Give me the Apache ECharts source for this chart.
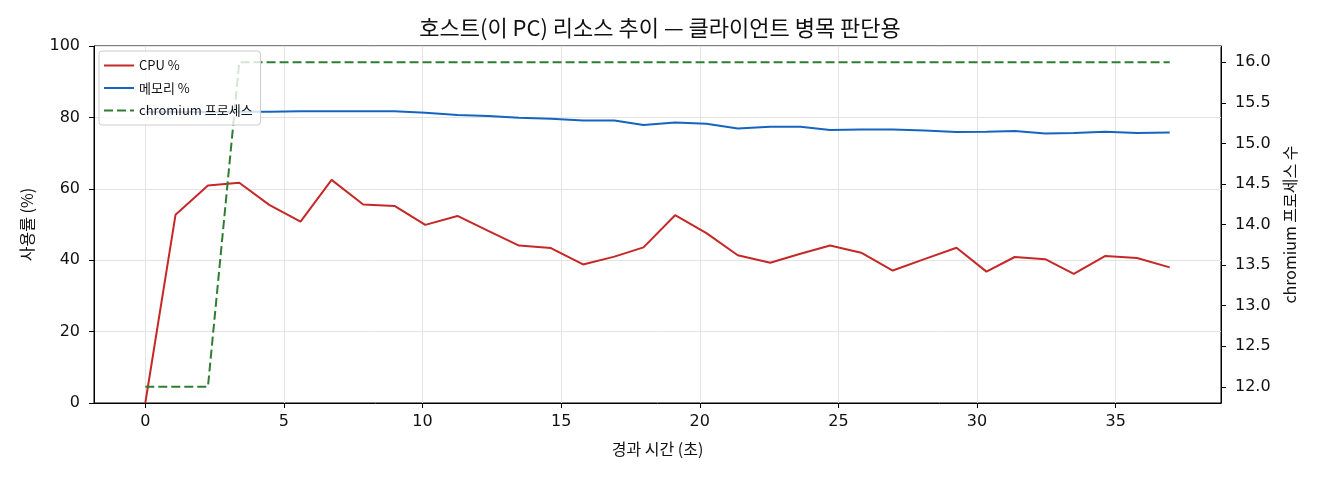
<!DOCTYPE html>
<html>
<head>
<meta charset="utf-8">
<script src="https://cdn.jsdelivr.net/npm/echarts@6/dist/echarts.min.js"></script>
<style>
html,body{margin:0;padding:0;background:#fff;}
#chart{width:1320px;height:480px;}
</style>
</head>
<body>
<div id="chart"></div>
<script>
var elapsed = [0, 1.09, 2.26, 3.39, 4.47, 5.6, 6.72, 7.86, 8.99, 10.1, 11.26, 12.37, 13.48, 14.63, 15.79, 16.92, 17.97, 19.11, 20.24, 21.37, 22.54, 23.63, 24.7, 25.82, 26.96, 28.1, 29.26, 30.34, 31.36, 32.46, 33.49, 34.63, 35.77, 36.95];
var cpuPct = [0, 52.7, 60.9, 61.7, 55.5, 50.8, 62.5, 55.6, 55.2, 49.9, 52.4, 48.2, 44.1, 43.4, 38.8, 41.0, 43.6, 52.6, 47.6, 41.4, 39.3, 41.8, 44.1, 42.1, 37.1, 40.3, 43.5, 36.8, 40.9, 40.3, 36.2, 41.2, 40.6, 38.0];
var memPct = [81.5, 81.5, 81.5, 81.6, 81.6, 81.7, 81.7, 81.7, 81.7, 81.3, 80.7, 80.4, 79.9, 79.6, 79.1, 79.1, 77.9, 78.6, 78.2, 76.9, 77.4, 77.4, 76.45, 76.6, 76.6, 76.3, 75.9, 75.95, 76.2, 75.5, 75.6, 75.95, 75.6, 75.75];
var chromiumProcs = [12, 12, 12, 16, 16, 16, 16, 16, 16, 16, 16, 16, 16, 16, 16, 16, 16, 16, 16, 16, 16, 16, 16, 16, 16, 16, 16, 16, 16, 16, 16, 16, 16, 16];
var xTicks = [0, 5, 10, 15, 20, 25, 30, 35];
var leftTicks = [0, 20, 40, 60, 80, 100];
var rightTicks = [12.0, 12.5, 13.0, 13.5, 14.0, 14.5, 15.0, 15.5, 16.0];
var seriesNames = ['CPU %', '메모리 %', 'chromium 프로세스'];
var titleText = '호스트(이 PC) 리소스 추이 — 클라이언트 병목 판단용';

function pairs(xs, ys){ return xs.map(function(x,i){ return [x, ys[i]]; }); }

var FONT = '"Noto Sans CJK KR", "Noto Sans", sans-serif';
var TICKFONT = '"DejaVu Sans", sans-serif';
var chart = echarts.init(document.getElementById('chart'), null, {renderer:'canvas'});
chart.setOption({
  animation: false,
  backgroundColor: '#fff',
  textStyle: {fontFamily: FONT},
  title: {
    text: titleText, left: 'center', top: 12,
    textStyle: {fontFamily: FONT, fontSize: 22, fontWeight: 'normal', color: '#111'}
  },
  legend: {
    orient: 'vertical', left: 99, top: 51,
    data: seriesNames,
    itemWidth: 30, itemHeight: 10, itemGap: 9.5,
    padding: [8, 8, 8, 4],
    backgroundColor: 'rgba(255,255,255,0.8)',
    borderColor: '#cccccc', borderWidth: 1, borderRadius: 3,
    itemStyle: {opacity: 0},
    textStyle: {fontFamily: FONT, fontSize: 13, color: '#111'}
  },
  grid: {left: 94, right: 99, top: 46, bottom: 77, show: true, borderColor: '#000', borderWidth: 1, backgroundColor: 'transparent'},
  xAxis: {
    type: 'value', min: -1.85, max: 38.8,
    name: '경과 시간 (초)', nameLocation: 'middle', nameGap: 38,
    nameTextStyle: {fontFamily: FONT, fontSize: 16, color: '#111'},
    axisLine: {show: true, onZero: false, lineStyle: {color: '#000'}},
    axisTick: {show: true, length: 5, lineStyle: {color: '#000'}, customValues: xTicks},
    axisLabel: {customValues: xTicks, fontSize: 16, color: '#111', margin: 11, fontFamily: TICKFONT},
    splitLine: {show: true, lineStyle: {color: '#e4e4e4', width: 1}}
  },
  yAxis: [{
    type: 'value', min: 0, max: 100, interval: 20, position: 'left',
    name: '사용률 (%)', nameLocation: 'middle', nameGap: 59, nameRotate: 90,
    nameTextStyle: {fontFamily: FONT, fontSize: 16, color: '#111'},
    axisLine: {show: true, onZero: false, lineStyle: {color: '#000'}},
    axisTick: {show: true, length: 5, lineStyle: {color: '#000'}},
    axisLabel: {fontSize: 16, color: '#111', margin: 14, fontFamily: TICKFONT},
    splitLine: {show: true, lineStyle: {color: '#e4e4e4', width: 1}}
  }, {
    type: 'value', min: 11.8, max: 16.2, position: 'right',
    name: 'chromium 프로세스 수', nameLocation: 'middle', nameGap: 60, nameRotate: 90,
    nameTextStyle: {fontFamily: FONT, fontSize: 16, color: '#111'},
    axisLine: {show: true, onZero: false, lineStyle: {color: '#000'}},
    axisTick: {show: true, length: 5, lineStyle: {color: '#000'}, customValues: rightTicks},
    axisLabel: {customValues: rightTicks, fontSize: 16, color: '#111', margin: 14, fontFamily: TICKFONT,
      formatter: function(v){ return Number(v).toFixed(1); }},
    splitLine: {show: false}
  }],
  series: [{
    name: seriesNames[0], type: 'line', yAxisIndex: 0, symbol: 'none',
    data: pairs(elapsed, cpuPct),
    lineStyle: {color: '#c62828', width: 2}, itemStyle: {color: '#c62828'}, z: 3
  }, {
    name: seriesNames[1], type: 'line', yAxisIndex: 0, symbol: 'none',
    data: pairs(elapsed, memPct),
    lineStyle: {color: '#1565c0', width: 2}, itemStyle: {color: '#1565c0'}, z: 3
  }, {
    name: seriesNames[2], type: 'line', yAxisIndex: 1, symbol: 'none',
    data: pairs(elapsed, chromiumProcs),
    lineStyle: {color: '#2e7d32', width: 2, type: [9, 4]}, itemStyle: {color: '#2e7d32'}, z: 3
  }]
});
</script>
</body>
</html>
